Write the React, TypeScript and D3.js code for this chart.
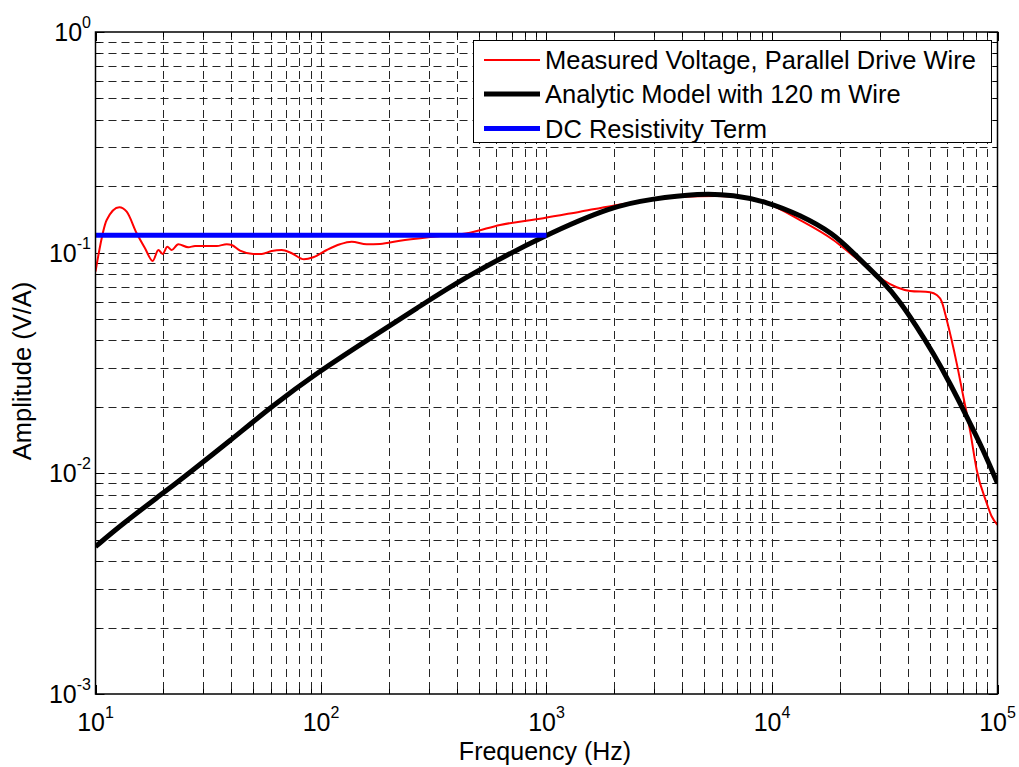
import React from "react";
import * as d3 from "d3";

// Measured voltage (red)
const redFreq = [10, 11.21, 12.75, 13.75, 15.23, 16.58, 17.94, 18.99, 19.86, 20.82, 21.77, 23.29, 25.79, 27.63, 34.47, 38.18, 40.18, 43.74, 50.1, 54.58, 60.44, 66.96, 74.17, 84.04, 92.45, 106, 121.4, 136.8, 159.5, 182.6, 224, 313.9, 458, 622.1, 967.8, 1408, 1978, 2877, 4044, 5685, 7722, 9474, 13310, 18700, 22180, 26300, 31160, 35730, 40930, 50220, 53770, 56570, 59530, 65940, 70530, 75510, 80880, 89580, 94290, 100000];
const redAmp = [0.082, 0.1406, 0.1606, 0.1534, 0.1224, 0.1047, 0.0917, 0.1028, 0.0987, 0.1064, 0.1028, 0.1092, 0.1058, 0.1072, 0.1072, 0.1092, 0.1083, 0.1021, 0.0987, 0.0987, 0.1018, 0.1028, 0.0994, 0.0933, 0.0953, 0.1028, 0.1092, 0.1121, 0.1092, 0.1095, 0.1133, 0.1182, 0.1232, 0.1335, 0.1432, 0.1534, 0.1633, 0.1733, 0.1794, 0.1807, 0.1764, 0.1674, 0.1406, 0.1142, 0.0994, 0.0864, 0.0752, 0.0697, 0.0671, 0.0662, 0.0643, 0.06, 0.0496, 0.0315, 0.0223, 0.0157, 0.01036, 0.00732, 0.00637, 0.00584];

// Analytic model (black)
const blackFreq = [10, 13.28, 19.66, 26.25, 39.5, 60.44, 95.7, 164.9, 265.7, 427.6, 984.7, 1978, 2877, 4794, 6737, 9474, 13310, 18700, 22940, 31160, 36950, 43820, 51930, 61560, 73020, 86500, 100000];
const blackAmp = [0.004655, 0.00594, 0.00805, 0.0101, 0.01405, 0.0201, 0.0285, 0.04093, 0.0559, 0.0768, 0.1202, 0.1627, 0.1746, 0.1858, 0.1825, 0.1702, 0.1482, 0.1224, 0.0994, 0.0739, 0.06, 0.0462, 0.035, 0.0256, 0.0181, 0.01276, 0.00902];

// DC resistivity term (blue)
const dcFreq = [10, 1000];
const dcAmp = [0.12, 0.12];

const xTickExps = [1, 2, 3, 4, 5];
const yTickExps = [-3, -2, -1, 0];

const legendLabels = [
  "Measured Voltage, Parallel Drive Wire",
  "Analytic Model with 120 m Wire",
  "DC Resistivity Term",
];
const legendColors = ["#ff0000", "#000000", "#0000ff"];
const legendWidths = [2, 5, 5];

const W = 1019;
const H = 767;
const L = 95.5, R = 997.5, T = 32, B = 694;
const FONT = "'Liberation Sans', Arial, Helvetica, sans-serif";

export default function App() {
  const x = d3.scaleLog().domain([10, 1e5]).range([L, R]);
  const y = d3.scaleLog().domain([1e-3, 1]).range([B, T]);

  const xMinor: number[] = [];
  for (let e = 1; e < 5; e++) for (let m = 1; m <= 9; m++) xMinor.push(m * Math.pow(10, e));
  xMinor.push(1e5);
  const yMinor: number[] = [];
  for (let e = -3; e < 0; e++) for (let m = 1; m <= 9; m++) yMinor.push(m * Math.pow(10, e));
  yMinor.push(1);

  const isMajor = (v: number) => Math.abs(Math.log10(v) - Math.round(Math.log10(v))) < 1e-9;

  const mkLine = (curve: d3.CurveFactory) =>
    d3
      .line<[number, number]>()
      .x((d) => x(d[0]))
      .y((d) => y(d[1]))
      .curve(curve);

  const redPath = mkLine(d3.curveMonotoneX)(redFreq.map((f, i) => [f, redAmp[i]] as [number, number])) || "";
  const blackPath =
    mkLine(d3.curveBasis)(blackFreq.map((f, i) => [f, blackAmp[i]] as [number, number])) || "";
  const dcPath = mkLine(d3.curveLinear)(dcFreq.map((f, i) => [f, dcAmp[i]] as [number, number])) || "";

  const lgX = 473.5, lgY = 40.5, lgW = 518, lgH = 102;
  const rowY = [60, 94, 128.5];

  return (
    <svg
      width={W}
      height={H}
      style={{ position: "absolute", left: 0, top: 0, background: "#fff" }}
      fontFamily={FONT}
    >
      <rect x={0} y={0} width={W} height={H} fill="#fff" />
      <defs>
        <clipPath id="plotclip">
          <rect x={L} y={T} width={R - L} height={B - T} />
        </clipPath>
      </defs>
      {/* grid */}
      <g stroke="#000" strokeWidth={1} strokeDasharray="8,5" opacity={0.85}>
        {xMinor
          .filter((v) => v > 10 && v < 1e5)
          .map((v, i) => (
            <line key={"gx" + i} x1={Math.round(x(v)) + 0.5} x2={Math.round(x(v)) + 0.5} y1={T} y2={B} />
          ))}
        {yMinor
          .filter((v) => v > 1e-3 && v < 1)
          .map((v, i) => (
            <line key={"gy" + i} x1={L} x2={R} y1={Math.round(y(v)) + 0.5} y2={Math.round(y(v)) + 0.5} />
          ))}
      </g>
      {/* ticks */}
      <g stroke="#000" strokeWidth={1}>
        {xMinor.map((v, i) => {
          const len = isMajor(v) ? 9 : 5;
          const px = Math.round(x(v)) + 0.5;
          return (
            <g key={"tx" + i}>
              <line x1={px} x2={px} y1={B} y2={B - len} />
              <line x1={px} x2={px} y1={T} y2={T + len} />
            </g>
          );
        })}
        {yMinor.map((v, i) => {
          const len = isMajor(v) ? 9 : 5;
          const py = Math.round(y(v)) + 0.5;
          return (
            <g key={"ty" + i}>
              <line x1={L} x2={L + len} y1={py} y2={py} />
              <line x1={R} x2={R - len} y1={py} y2={py} />
            </g>
          );
        })}
      </g>
      {/* data */}
      <g clipPath="url(#plotclip)" fill="none" strokeLinejoin="round" strokeLinecap="butt">
        <path d={redPath} stroke="#ff0000" strokeWidth={2} />
        <path d={blackPath} stroke="#000" strokeWidth={5} />
        <path d={dcPath} stroke="#0000ff" strokeWidth={5} />
      </g>
      {/* axes box */}
      <rect x={L} y={T} width={R - L} height={B - T} fill="none" stroke="#000" strokeWidth={1.5} />
      {/* tick labels */}
      <g fontSize={25} fill="#000">
        {xTickExps.map((e) => (
          <text key={"xl" + e} x={x(Math.pow(10, e))} y={731} textAnchor="middle">
            <tspan>10</tspan>
            <tspan fontSize={16} dy={-13}>{e}</tspan>
          </text>
        ))}
        {yTickExps.map((e) => (
          <text key={"yl" + e} x={91} y={y(Math.pow(10, e)) + 9} textAnchor="end">
            <tspan>10</tspan>
            <tspan fontSize={16} dy={-13}>{e}</tspan>
          </text>
        ))}
      </g>
      {/* axis labels */}
      <text x={545} y={760} textAnchor="middle" fontSize={25}>
        Frequency (Hz)
      </text>
      <text
        transform={`translate(31, ${(T + B) / 2 + 8}) rotate(-90)`}
        textAnchor="middle"
        fontSize={25.5}
      >
        Amplitude (V/A)
      </text>
      {/* legend */}
      <rect x={lgX} y={lgY} width={lgW} height={lgH} fill="#fff" stroke="#000" strokeWidth={1} />
      {legendLabels.map((lab, i) => (
        <g key={"lg" + i}>
          <line x1={484} x2={540} y1={rowY[i]} y2={rowY[i]} stroke={legendColors[i]} strokeWidth={legendWidths[i]} />
          <text x={545} y={rowY[i] + 9} fontSize={25.5} fill="#000">
            {lab}
          </text>
        </g>
      ))}
    </svg>
  );
}
